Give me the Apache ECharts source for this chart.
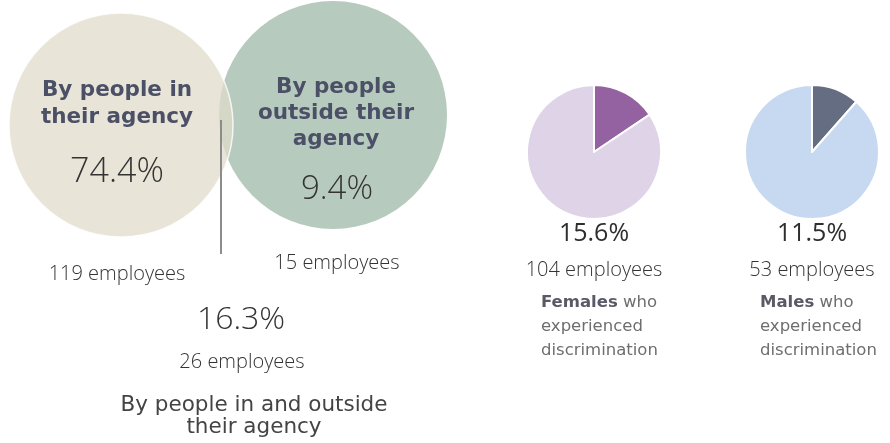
<!DOCTYPE html>
<html>
<head>
<meta charset="utf-8">
<script src="https://cdn.jsdelivr.net/npm/echarts@6/dist/echarts.min.js"></script>
<style>
  html, body { margin: 0; padding: 0; background: #ffffff; }
  #chart { width: 890px; height: 443px; }
</style>
</head>
<body>
<div id="chart"></div>
<script>
// Who the discrimination came from (Venn groups)
const vennTitles = ['By people in\ntheir agency', 'By people\noutside their\nagency'];
const overlapTitle = 'By people in and outside\ntheir agency';
const vennPercents = [74.4, 9.4, 16.3];   // in agency, outside agency, both
const vennEmployees = [119, 15, 26];

// Share of each gender who experienced discrimination
const genderNames = ['Females', 'Males'];
const genderPercents = [15.6, 11.5];
const genderEmployees = [104, 53];

const chart = echarts.init(document.getElementById('chart'), null, { renderer: 'canvas' });

const numFont = '"Open Sans", Lato, sans-serif';
const headFont = '"DejaVu Sans", "Noto Sans", sans-serif';

// Venn circles: each group drawn as a single full pie
function vennCircle(center, radius, color, border, z) {
  return {
    type: 'pie', silent: true, z: z, center: center, radius: [0, radius],
    label: { show: false }, labelLine: { show: false },
    itemStyle: { color: color, borderColor: border.color, borderWidth: border.width },
    emphasis: { disabled: true },
    data: [{ value: 1 }]
  };
}

// Gender pies: discriminated share starts at 12 o'clock, clockwise
const genderColors = [['#9462a0', '#dfd3e8'], ['#646d82', '#c6d9f0']];
const genderCenters = [[594, 152], [812, 152]];
const genderPies = genderNames.map((name, i) => ({
  type: 'pie', silent: true, z: 3, center: genderCenters[i], radius: [0, 67],
  startAngle: 90, clockwise: true,
  label: { show: false }, labelLine: { show: false },
  emphasis: { disabled: true },
  itemStyle: { borderColor: '#ffffff', borderWidth: 2 },
  data: [
    { name: name + ' who experienced discrimination', value: genderPercents[i], itemStyle: { color: genderColors[i][0] } },
    { name: name + ' other', value: +(100 - genderPercents[i]).toFixed(1), itemStyle: { color: genderColors[i][1] } }
  ]
}));

const fmt = v => v.toFixed(1) + '%';
const text = (x, y, str, style) => ({
  type: 'text', x: x, y: y, z: 10,
  style: Object.assign({ text: str, align: 'center', verticalAlign: 'middle', fill: '#333333' }, style)
});

const graphics = [
  // leader line from the overlap down to its caption
  { type: 'line', z: 6, shape: { x1: 221, y1: 120, x2: 221, y2: 254 }, style: { stroke: '#8c8c8c', lineWidth: 2 } },

  text(117, 104, vennTitles[0], { font: 'bold 21.5px ' + headFont, fill: '#4b5067', lineHeight: 27 }),
  text(117, 172, fmt(vennPercents[0]), { font: '300 34px ' + numFont }),
  text(336, 113, vennTitles[1], { font: 'bold 21.5px ' + headFont, fill: '#4b5067', lineHeight: 26 }),
  text(337, 190, fmt(vennPercents[1]), { font: '300 33px ' + numFont }),

  text(117, 274, vennEmployees[0] + ' employees', { font: '300 20px ' + numFont }),
  text(337, 263, vennEmployees[1] + ' employees', { font: '300 20px ' + numFont }),
  text(241, 320, fmt(vennPercents[2]), { font: '300 32px ' + numFont }),
  text(242, 362, vennEmployees[2] + ' employees', { font: '300 20px ' + numFont }),
  text(254, 416, overlapTitle, { font: '21.5px ' + headFont, fill: '#444444', lineHeight: 22 })
];

genderNames.forEach((name, i) => {
  const cx = genderCenters[i][0];
  graphics.push(text(cx, 234, fmt(genderPercents[i]), { font: '400 25px ' + numFont, fill: '#2e2e2e' }));
  graphics.push(text(cx, 270, genderEmployees[i] + ' employees', { font: '300 20px ' + numFont }));
  graphics.push({
    type: 'text', z: 10, x: [541, 760][i], y: 291,
    style: {
      text: '{b|' + name + '} who\nexperienced\ndiscrimination',
      align: 'left', verticalAlign: 'top',
      font: '16.5px ' + headFont, fill: '#6e6e6e', lineHeight: 24,
      rich: { b: { font: 'bold 16.5px ' + headFont, fill: '#5a5a66', lineHeight: 24 } }
    }
  });
});

chart.setOption({
  animation: false,
  backgroundColor: '#ffffff',
  series: [
    vennCircle([333, 115], 114, '#b7cabe', { color: '#b7cabe', width: 0 }, 1),
    vennCircle([121, 125], 112, 'rgba(224,220,202,0.74)', { color: 'rgba(255,255,255,0.8)', width: 1.5 }, 2)
  ].concat(genderPies),
  graphic: graphics
});
</script>
</body>
</html>
